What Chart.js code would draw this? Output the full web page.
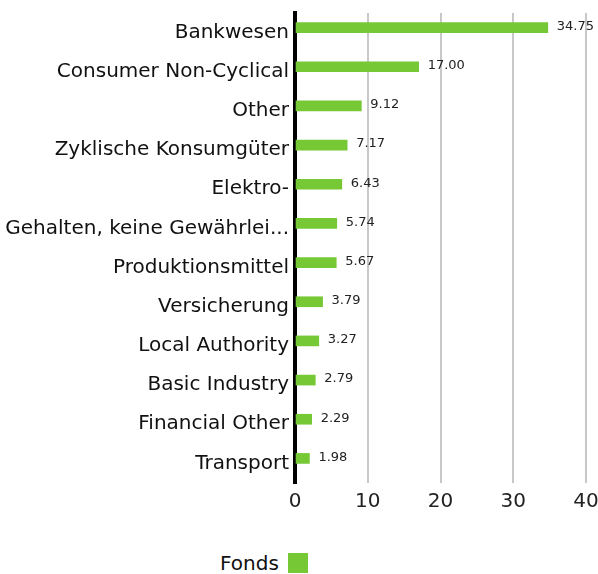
<!DOCTYPE html>
<html>
<head>
<meta charset="utf-8">
<script src="https://cdn.jsdelivr.net/npm/chart.js@4/dist/chart.umd.min.js"></script>
<style>
  html, body { margin: 0; padding: 0; background: #fff; }
  #wrap { position: relative; width: 598px; height: 574px; }
  #legend {
    position: absolute; left: 220px; top: 551px;
    font-family: "DejaVu Sans", sans-serif; font-size: 20px; color: #111;
    display: flex; align-items: center;
  }
  #legend span.box { display: inline-block; width: 20px; height: 20px; background: #76c834; margin-left: 9px; }
</style>
</head>
<body>
<div id="wrap">
  <canvas id="sectorChart" width="598" height="521"></canvas>
  <div id="legend"><span>Fonds</span><span class="box"></span></div>
</div>
<script>
const categories = [
  'Bankwesen',
  'Consumer Non-Cyclical',
  'Other',
  'Zyklische Konsumgüter',
  'Elektro-',
  'Gehalten, keine Gewährleistung',
  'Produktionsmittel',
  'Versicherung',
  'Local Authority',
  'Basic Industry',
  'Financial Other',
  'Transport'
];
const fondsValues = [34.75, 17.00, 9.12, 7.17, 6.43, 5.74, 5.67, 3.79, 3.27, 2.79, 2.29, 1.98];
// the comparison slot is empty in the source, but it still takes its half of each row
const vergleichValues = [];
const xTicks = [0, 10, 20, 30, 40];

const barGreen = '#76c834';
const fontFamily = '"DejaVu Sans", sans-serif';

// draw the value next to the end of each bar
const valueLabels = {
  id: 'valueLabels',
  afterDatasetsDraw(chart) {
    const { ctx } = chart;
    const meta = chart.getDatasetMeta(0);
    ctx.save();
    ctx.font = '13px ' + fontFamily;
    ctx.fillStyle = '#222';
    ctx.textBaseline = 'middle';
    meta.data.forEach((bar, i) => {
      ctx.fillText(fondsValues[i].toFixed(2), bar.x + 9, bar.y - 1);
    });
    ctx.restore();
  }
};

const ctx = document.getElementById('sectorChart').getContext('2d');
new Chart(ctx, {
  type: 'bar',
  data: {
    labels: categories,
    datasets: [
      {
        label: 'Fonds',
        data: fondsValues,
        backgroundColor: barGreen,
        barThickness: 10
      },
      {
        label: 'Vergleich',
        data: vergleichValues,
        backgroundColor: '#999',
        barThickness: 10
      }
    ]
  },
  options: {
    indexAxis: 'y',
    responsive: false,
    animation: false,
    layout: { padding: { top: 13, right: 0, left: 0, bottom: 0 } },
    plugins: {
      legend: { display: false },
      tooltip: { enabled: false }
    },
    scales: {
      x: {
        min: 0,
        max: 40,
        afterBuildTicks(scale) {
          scale.ticks = xTicks.map(v => ({ value: v }));
        },
        afterFit(scale) { scale.paddingRight = 12; },
        grid: {
          color: '#c8c8c8',
          lineWidth: 2,
          drawTicks: false
        },
        border: { display: false },
        ticks: {
          color: '#222',
          padding: 7,
          font: { family: fontFamily, size: 20 }
        }
      },
      y: {
        afterFit(scale) {
          scale.width = 295;
          scale.paddingTop = 0;
          scale.paddingBottom = 0;
        },
        grid: { display: false, drawTicks: false },
        border: { display: true, color: '#000', width: 4 },
        ticks: {
          color: '#111',
          padding: 6,
          font: { family: fontFamily, size: 20 },
          callback(value) {
            const text = this.getLabelForValue(value);
            return text.length > 25 ? text.slice(0, 25) + '...' : text;
          }
        }
      }
    }
  },
  plugins: [valueLabels]
});
</script>
</body>
</html>
